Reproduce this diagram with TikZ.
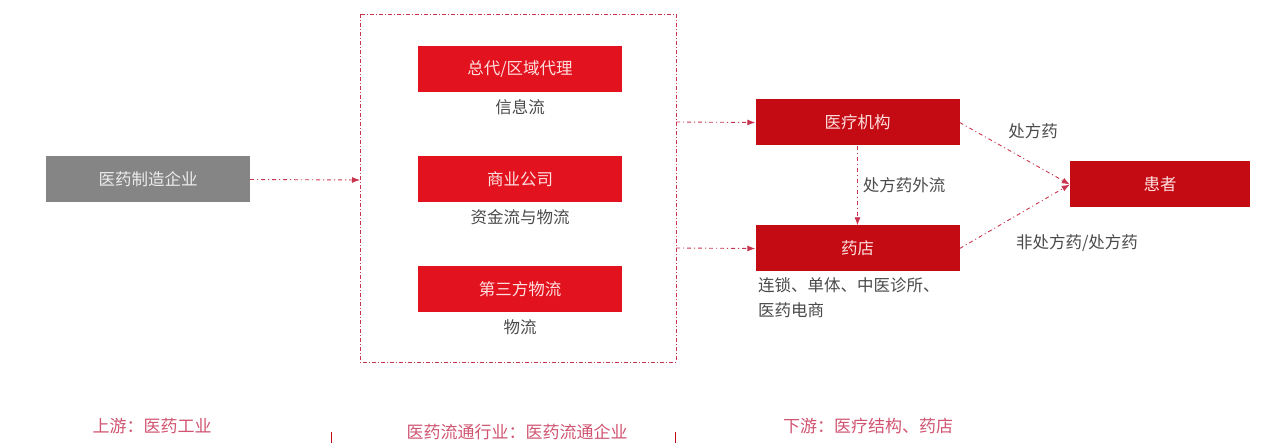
\documentclass[tikz,border=0pt]{standalone}
\usepackage{fontspec}
\newfontfamily\cjk{Noto Sans CJK SC}
\usetikzlibrary{arrows.meta}
\definecolor{boxred}{HTML}{E2121E}
\definecolor{darkred}{HTML}{C40A12}
\definecolor{grayfill}{HTML}{858585}
\definecolor{linered}{HTML}{C8344E}
\definecolor{pinktext}{HTML}{D05470}
\definecolor{labelgray}{HTML}{4A4A4A}
\tikzset{
  redbox/.style={draw=none, fill=boxred, text=white!88!red, minimum width=204pt, minimum height=46pt, inner sep=0pt, font=\cjk\fontsize{16.5}{18}\selectfont},
  dredbox/.style={redbox, fill=darkred},
  graybox/.style={redbox, fill=grayfill, text=white!85!gray},
  lbl/.style={text=labelgray, font=\cjk\fontsize{16.5}{25}\selectfont, inner sep=1pt},
  bottomlbl/.style={text=pinktext, font=\cjk\fontsize{17}{19}\selectfont, inner sep=1pt},
  flow/.style={draw=linered, line width=0.9pt, dash pattern=on 4pt off 3pt on 1pt off 3pt, -{Latex[length=8pt,width=6pt]}},
  frame/.style={draw=linered, line width=0.9pt, dash pattern=on 4pt off 2pt on 1pt off 2pt}
}
\begin{document}
\begin{tikzpicture}[x=1pt,y=-1pt]
\useasboundingbox (0,0) rectangle (1274,443);
% frame
\draw[frame] (360,14) rectangle (676,362);
\coordinate (fl) at (360,180);
\coordinate (fr1) at (676,122);
\coordinate (fr2) at (676,248);
% boxes
\node[graybox] (mfg) at (148,179.5) {医药制造企业};
\node[redbox] (b1) at (520,69) {总代/区域代理};
\node[redbox] (b2) at (520,179.5) {商业公司};
\node[redbox] (b3) at (520,289) {第三方物流};
\node[lbl] (l1) at (520,107) {信息流};
\node[lbl] (l2) at (520,217) {资金流与物流};
\node[lbl] (l3) at (520,327) {物流};
\node[dredbox] (hosp) at (857.5,122.5) {医疗机构};
\node[dredbox] (pharm) at (857.5,248.5) {药店};
\node[dredbox, minimum width=180pt] (pat) at (1160,184.5) {患者};
% arrows
\draw[flow] (mfg.east) -- (fl);
\draw[flow] (fr1) -- (hosp.west);
\draw[flow] (fr2) -- (pharm.west);
\draw[flow] (hosp.south) -- (pharm.north) node[midway, right=4pt, lbl] (lout) {处方药外流};
\draw[flow] (hosp.east) -- (pat.west);
\draw[flow] (pharm.east) -- (pat.west);
\node[lbl] (lrx) at (1033,131) {处方药};
\node[lbl] (lotc) at (1077,243) {非处方药/处方药};
\node[lbl, anchor=west, align=left] (lch) at (757,298) {连锁、单体、中医诊所、\\医药电商};
% bottom
\node[bottomlbl] (u) at (152,426) {上游：医药工业};
\node[bottomlbl] (m) at (517,432) {医药流通行业：医药流通企业};
\node[bottomlbl] (d) at (868,426) {下游：医疗结构、药店};
\coordinate (t1a) at (331,432); \coordinate (t1b) at (331,443);
\coordinate (t2a) at (675,432); \coordinate (t2b) at (675,443);
\draw[darkred, line width=0.8pt] (t1a) -- (t1b);
\draw[darkred, line width=0.8pt] (t2a) -- (t2b);
\end{tikzpicture}
\end{document}
